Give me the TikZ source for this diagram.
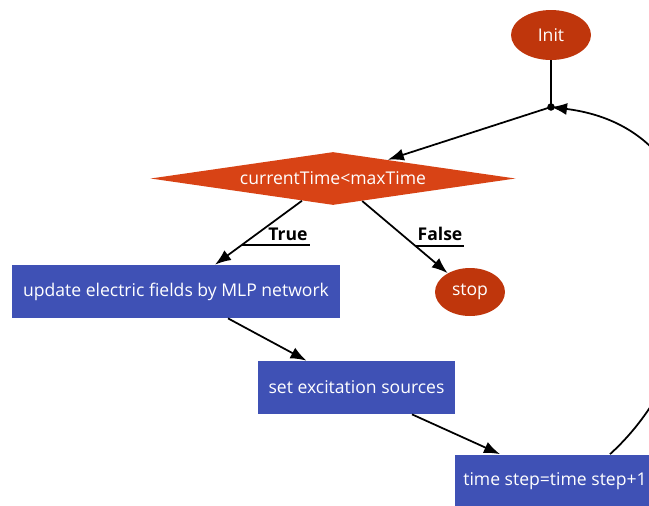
\documentclass[tikz,border=0pt]{standalone}
\usepackage{fontspec}
\setmainfont{Open Sans}
\usetikzlibrary{arrows.meta,shapes.geometric,calc}

\definecolor{termred}{HTML}{BF360C}
\definecolor{condred}{HTML}{D84315}
\definecolor{procblue}{HTML}{3F51B5}

\begin{document}
\begin{tikzpicture}[x=0.02cm, y=-0.02cm,
    term/.style={ellipse, fill=termred, text=white, minimum width=1.6cm, minimum height=1.0cm, font=\fontsize{10}{12}\selectfont},
    cond/.style={diamond, fill=condred, text=white, inner sep=0pt, shape aspect=7, minimum width=7.3cm, minimum height=1.06cm, font=\fontsize{10}{12}\selectfont},
    proc/.style={rectangle, fill=procblue, text=white, minimum height=1.06cm, font=\fontsize{10}{12}\selectfont},
    elabel/.style={font=\fontsize{10}{12}\selectfont\bfseries, inner sep=1pt},
    arrow/.style={-{Latex[length=3.2mm,width=2.4mm]}, line width=1pt},
    link/.style={line width=1pt}
]
\useasboundingbox (0,0) rectangle (649,505);

% Start and loop test
\node[term] (init) at (551,35) {Init};
\coordinate (join) at (551,107);
\node[cond] (cond) at (333,178.5) {currentTime<maxTime};

% Loop body
\node[proc, minimum width=6.56cm] (update) at (176,291.5) {update electric fields by MLP network};
\node[term, minimum width=1.4cm, minimum height=0.96cm] (stop) at (470,292) {stop};
\node[proc, minimum width=3.94cm] (excite) at (356.5,387.5) {set excitation sources};
\node[proc, minimum width=4cm] (tstep) at (555,481) {time step=time step+1};

% Connections
\draw[link] (init) -- (join);
\fill (join) circle (0.075cm);
\draw[arrow] (join) -- ($(cond.north)!0.3!(cond.east)$);
\draw[arrow] ($(cond.south)!0.17!(cond.west)$) -- ($(update.north)+(39,0)$) coordinate[pos=0.69] (truemark);
\draw[arrow] ($(cond.south)!0.16!(cond.east)$) -- (stop) coordinate[pos=0.62] (falsemark);
\draw[arrow] ($(update.south)+(52,0)$) -- ($(excite.north)+(-50,0)$);
\draw[arrow] ($(excite.south)+(55.5,0)$) -- ($(tstep.north)+(-55,0)$);
\draw[arrow] ($(tstep.north)+(55,0)$) .. controls (725,350) and (735,130) .. (join);

% Branch labels
\node[elabel, anchor=south] (truelbl) at (288,243) {True};
\node[elabel, anchor=south] (falselbl) at (440,243) {False};
\draw[link] (truemark) -- (truemark -| truelbl.east);
\draw[link] (falsemark) -- (falsemark -| falselbl.east);
\end{tikzpicture}
\end{document}
